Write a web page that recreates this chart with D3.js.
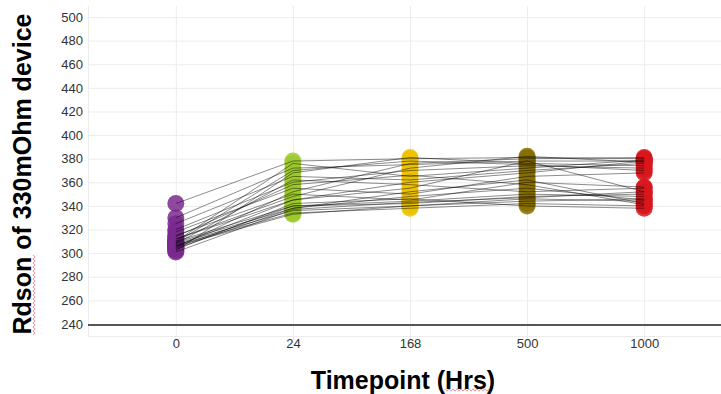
<!DOCTYPE html>
<html>
<head>
<meta charset="utf-8">
<script src="https://cdn.jsdelivr.net/npm/d3@7"></script>
<style>
  body { margin: 0; background: #fff; }
  svg { display: block; font-family: "Liberation Sans", Arial, sans-serif; }
</style>
</head>
<body>
<svg id="chart"></svg>
<script>
// timepoints (hrs) and their dot colours
var timepoints = ["0", "24", "168", "500", "1000"];
var pointColors = ["#7a2a8e", "#9dc92e", "#ecc200", "#876f00", "#d8161c"];
var yTicks = [240, 260, 280, 300, 320, 340, 360, 380, 400, 420, 440, 460, 480, 500];

// Rdson readings, one array per timepoint, index = device
var rds0    = [342, 330, 325, 320, 318, 315, 312, 310, 309, 308, 307, 306, 305, 305, 304, 303, 302, 308, 310, 306, 312, 301, 314, 309];
var rds24   = [378, 372, 365, 360, 355, 350, 345, 340, 338, 336, 334, 345, 352, 340, 338, 342, 368, 362, 376, 333, 348, 337, 358, 370];
var rds168  = [380, 375, 362, 370, 350, 345, 355, 342, 348, 340, 338, 360, 376, 344, 352, 346, 381, 358, 365, 340, 372, 343, 366, 378];
var rds500  = [381, 378, 370, 374, 365, 360, 378, 348, 355, 346, 342, 368, 380, 350, 362, 340, 376, 352, 372, 344, 382, 347, 358, 375];
var rds1000 = [380, 378, 376, 372, 368, 356, 352, 350, 345, 344, 340, 378, 381, 348, 342, 338, 374, 355, 379, 346, 377, 352, 341, 370];

var series = [rds0, rds24, rds168, rds500, rds1000];

var width = 721, height = 394;
var plot = { left: 88, top: 6, axisY: 325, bottom: 336 };

var svg = d3.select("#chart").attr("width", width).attr("height", height);

var xScale = d3.scalePoint()
  .domain(timepoints)
  .range([plot.left, 732])
  .padding(0.75);

var yScale = d3.scaleLinear()
  .domain([240, 500])
  .range([324, 17]);

// gridlines
svg.append("g").selectAll("line")
  .data(yTicks)
  .enter().append("line")
  .attr("x1", plot.left).attr("x2", width)
  .attr("y1", function(d){ return yScale(d) + 0.5; })
  .attr("y2", function(d){ return yScale(d) + 0.5; })
  .style("stroke", "#ececec");

svg.append("line")
  .attr("x1", plot.left).attr("x2", width)
  .attr("y1", plot.bottom + 0.5).attr("y2", plot.bottom + 0.5)
  .style("stroke", "#ececec");

svg.append("g").selectAll("line")
  .data(timepoints)
  .enter().append("line")
  .attr("x1", function(d){ return xScale(d) + 0.5; })
  .attr("x2", function(d){ return xScale(d) + 0.5; })
  .attr("y1", plot.top).attr("y2", plot.bottom + 4)
  .style("stroke", "#ececec");

svg.append("line")
  .attr("x1", plot.left + 0.5).attr("x2", plot.left + 0.5)
  .attr("y1", plot.top).attr("y2", plot.bottom)
  .style("stroke", "#ececec");

// y axis labels
var yAxis = d3.axisLeft(yScale).tickValues(yTicks).tickSize(0).tickPadding(0);
var yAxisG = svg.append("g")
  .attr("transform", "translate(83,0)")
  .call(yAxis);
yAxisG.select(".domain").remove();
yAxisG.selectAll("text")
  .style("font-size", "13px")
  .style("fill", "#333");

// x axis labels
var xAxis = d3.axisBottom(xScale).tickSize(0).tickPadding(0);
var xAxisG = svg.append("g")
  .attr("transform", "translate(0,339)")
  .call(xAxis);
xAxisG.select(".domain").remove();
xAxisG.selectAll("text")
  .style("font-size", "13px")
  .style("fill", "#333");

// dots
series.forEach(function(vals, i){
  svg.append("g").selectAll("circle")
    .data(vals)
    .enter().append("circle")
    .attr("cx", xScale(timepoints[i]))
    .attr("cy", function(d){ return yScale(d); })
    .attr("r", 8.5)
    .style("fill", pointColors[i])
    .style("fill-opacity", 0.85);
});

// device lines
var devices = d3.range(rds0.length).map(function(k){
  return series.map(function(vals, i){ return { t: timepoints[i], v: vals[k] }; });
});

var line = d3.line()
  .x(function(d){ return xScale(d.t); })
  .y(function(d){ return yScale(d.v); });

svg.append("g").selectAll("path")
  .data(devices)
  .enter().append("path")
  .attr("d", line)
  .style("fill", "none")
  .style("stroke", "#000")
  .style("stroke-opacity", 0.5)
  .style("stroke-width", 0.9);

// x axis baseline
svg.append("line")
  .attr("x1", plot.left).attr("x2", width)
  .attr("y1", plot.axisY).attr("y2", plot.axisY)
  .style("stroke", "#555")
  .style("stroke-width", 2);

// titles
svg.append("text")
  .attr("transform", "translate(31,174) rotate(-90)")
  .attr("text-anchor", "middle")
  .style("font-size", "25px")
  .style("font-weight", "bold")
  .style("fill", "#000")
  .text("Rdson of 330mOhm device");

svg.append("text")
  .attr("x", 403).attr("y", 389)
  .attr("text-anchor", "middle")
  .style("font-size", "25px")
  .style("font-weight", "bold")
  .style("fill", "#000")
  .text("Timepoint (Hrs)");

// spell-check squiggles
var wavy = function(x0, y0, len, vertical){
  var pts = d3.range(0, len + 1, 2).map(function(s, j){
    var off = (j % 2) ? 1.2 : -1.2;
    return vertical ? [x0 + off, y0 - s] : [x0 + s, y0 + off];
  });
  svg.append("path")
    .attr("d", d3.line()(pts))
    .style("fill", "none")
    .style("stroke", "#e04040")
    .style("stroke-opacity", 0.7)
    .style("stroke-width", 0.8);
};
wavy(34, 335, 80, true);
wavy(445, 390, 44, false);
</script>
</body>
</html>
